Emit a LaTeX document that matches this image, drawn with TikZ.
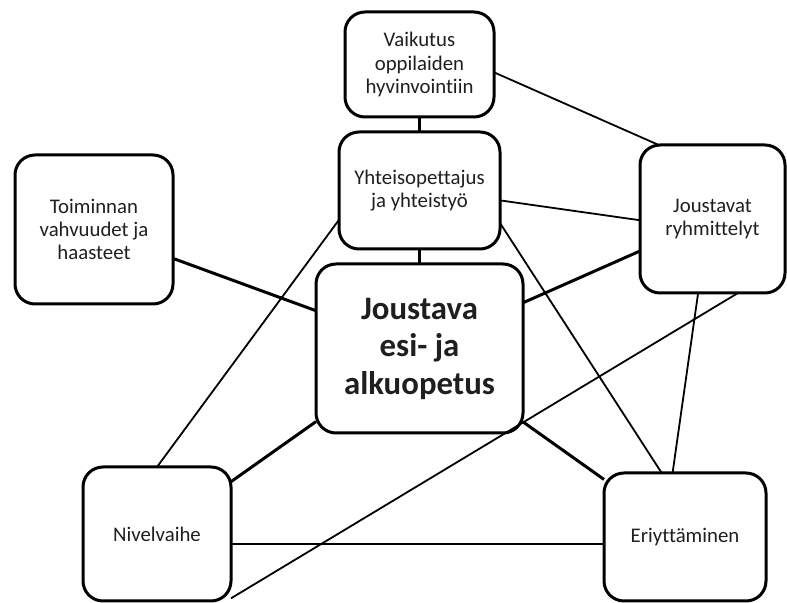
\documentclass[tikz,border=0pt]{standalone}
\usepackage{fontspec}
\setmainfont{Carlito}[Ligatures={NoCommon}]
\usetikzlibrary{positioning}

\begin{document}
\begin{tikzpicture}[
    x=0.5pt, y=0.5pt,
    font=\fontsize{10.4}{11.6}\selectfont, % small labels
    % common styles
    box/.style={
        draw,
        fill=white,
        line width=1.5pt,
        rounded corners=10pt,
        align=center,
        text=black!88,
        inner sep=0pt,
        outer sep=0pt % anchors on the border line
    },
    strong link/.style={line width=1.5pt},
    weak link/.style={line width=0.9pt}
]
    \useasboundingbox (0,0) rectangle (787,-603);

    % --- 1. Core (center) ---
    \node[box, minimum width=103.5pt, minimum height=84.5pt,
          font=\fontsize{16.4}{18.75}\selectfont\bfseries]
          (core) at (419.5,-348.5) {Joustava\\esi- ja\\alkuopetus};

    % --- 2. Column above the core ---
    \node[box, minimum width=80.5pt, minimum height=58.5pt, above=7.5pt of core]
          (yht) {Yhteisopettajus\\ja yhteistyö};
    \node[box, minimum width=74.5pt, minimum height=52.5pt, above=7.5pt of yht]
          (vaik) {Vaikutus\\oppilaiden\\hyvinvointiin};

    % --- 3. Outer boxes ---
    \node[box, minimum width=79pt, minimum height=74.5pt]
          (toim) at (94,-229.5) {Toiminnan\\vahvuudet ja\\haasteet};
    \node[box, minimum width=72.5pt, minimum height=74pt]
          (joust) at (712.5,-219) {Joustavat\\ryhmittelyt};
    \node[box, minimum width=74pt, minimum height=67pt]
          (niv) at (157,-534) {Nivelvaihe};
    \node[box, minimum width=81pt, minimum height=64pt]
          (eri) at (685,-537) {Eriyttäminen};

    % --- 4. Links to the core ---
    \draw[strong link] (vaik) -- (yht);
    \draw[strong link] (yht) -- (core);
    \draw[strong link] (toim) -- (core);
    \draw[strong link] (joust) -- (core);
    \draw[strong link] (niv) -- (core);
    \draw[strong link] (eri) -- (core);

    % --- 5. Cross links ---
    \draw[weak link] (vaik.-6) -- (joust.126);
    \draw[weak link] (yht.-7) -- (joust.181);
    \draw[weak link] (yht.200) -- (niv.north);
    \draw[weak link] (yht.-22) -- (eri.110);
    \draw[weak link] (joust.259) -- (eri.101);
    \draw[weak link] (joust.289) -- (niv.-41);
    \draw[weak link] (niv.-8.5) -- (niv.-8.5 -| eri.west);

\end{tikzpicture}
\end{document}
